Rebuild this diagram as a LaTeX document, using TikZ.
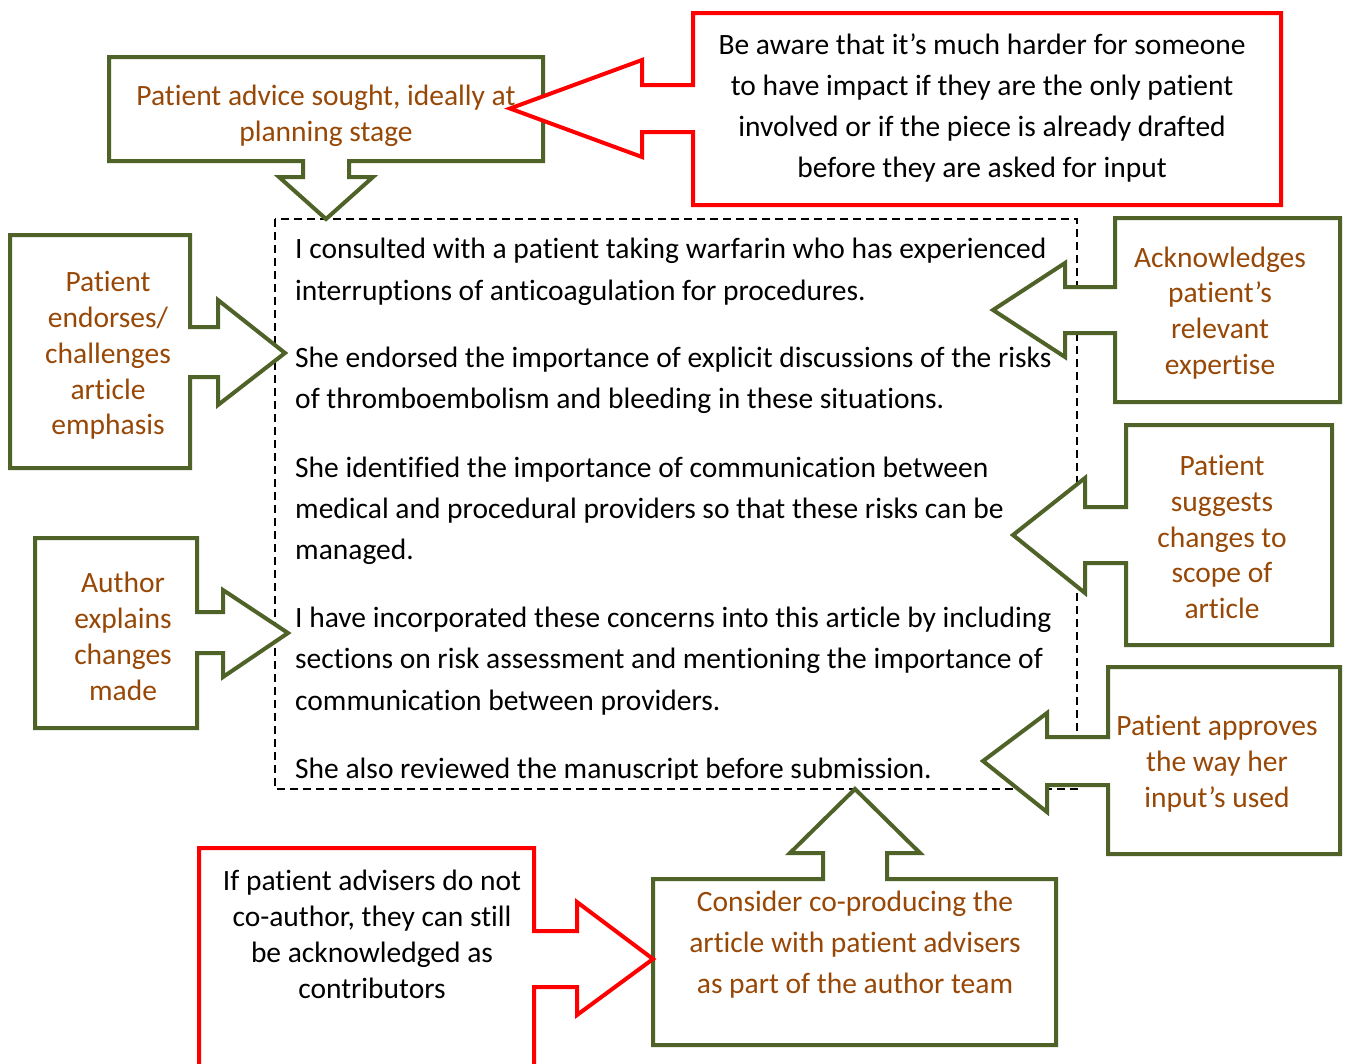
\documentclass[tikz,border=0pt]{standalone}
\usepackage{fontspec}
\setmainfont{Carlito}[Ligatures=NoCommon]
\definecolor{calgreen}{HTML}{4F6228}
\definecolor{calbrown}{HTML}{984806}
\definecolor{calred}{HTML}{FF0000}
\tikzset{
  gshape/.style={draw=calgreen, line width=4pt, fill=white, line join=miter},
  rshape/.style={draw=calred, line width=4pt, fill=white, line join=miter},
  gtxt/.style={text=calbrown, align=center, inner sep=0pt, font=\fontsize{29.5}{35.8}\selectfont},
  gtxtw/.style={text=calbrown, align=center, inner sep=0pt, font=\fontsize{29.5}{41}\selectfont},
  rtxt/.style={text=black, align=center, inner sep=0pt, font=\fontsize{29.5}{35.8}\selectfont},
  rtxtw/.style={text=black, align=center, inner sep=0pt, font=\fontsize{29.5}{41}\selectfont},
  bodyline/.style={anchor=base west, inner sep=0pt, font=\fontsize{29.5}{41}\selectfont},
  dashbox/.style={draw=black, line width=1.5pt, dash pattern=on 8pt off 5pt}
}
\begin{document}
\begin{tikzpicture}[x=1pt,y=-1pt]
\clip (0,0) rectangle (1349,1063);
\fill[white] (0,0) rectangle (1349,1063);

% dashed text frame
\draw[dashbox] (275,219) rectangle (1077,789);

% callout shapes
\draw[gshape] (109,57) -- (543,57) -- (543,161) -- (349,161) -- (349,177) -- (373,177) -- (326,219) -- (279,177) -- (303,177) -- (303,161) -- (109,161) -- cycle;
\draw[rshape] (693,13) -- (1281,13) -- (1281,205) -- (693,205) -- (693,132) -- (642,132) -- (642,157) -- (510,108.5) -- (642,60) -- (642,85) -- (693,85) -- cycle;
\draw[gshape] (10,235) -- (190,235) -- (190,327) -- (218,327) -- (218,300) -- (285,353) -- (218,405) -- (218,377) -- (190,377) -- (190,468) -- (10,468) -- cycle;
\draw[gshape] (1115,218) -- (1340,218) -- (1340,402) -- (1115,402) -- (1115,333) -- (1065,333) -- (1065,357) -- (993,310) -- (1065,263) -- (1065,287) -- (1115,287) -- cycle;
\draw[gshape] (35,538) -- (197,538) -- (197,612) -- (223,612) -- (223,590) -- (288,633) -- (223,677) -- (223,653) -- (197,653) -- (197,728) -- (35,728) -- cycle;
\draw[gshape] (1126,425) -- (1332,425) -- (1332,645) -- (1126,645) -- (1126,563) -- (1085,563) -- (1085,593) -- (1013,535) -- (1085,478) -- (1085,507) -- (1126,507) -- cycle;
\draw[gshape] (1108,667) -- (1340,667) -- (1340,854) -- (1108,854) -- (1108,785) -- (1047,785) -- (1047,812) -- (983,761) -- (1047,713) -- (1047,737) -- (1108,737) -- cycle;
\draw[gshape] (653,879) -- (823,879) -- (823,853) -- (790,853) -- (855,789) -- (920,853) -- (887,853) -- (887,879) -- (1056,879) -- (1056,1045) -- (653,1045) -- cycle;
\draw[rshape] (199,1090) -- (199,848) -- (534,848) -- (534,931) -- (577,931) -- (577,902) -- (653,959) -- (577,1015) -- (577,987) -- (534,987) -- (534,1090) -- cycle;

% callout texts
\node[gtxt] (advice) at (326,116) {Patient advice sought, ideally at\\planning stage};
\node[rtxtw] (aware) at (982,107.5) {Be aware that it’s much harder for someone\\to have impact if they are the only patient\\involved or if the piece is already drafted\\before they are asked for input};
\node[gtxt] (endorses) at (108,355.5) {Patient\\endorses/\\challenges\\article\\emphasis};
\node[gtxt] (acknow) at (1220,313) {Acknowledges\\patient’s\\relevant\\expertise};
\node[gtxt] (author) at (123,636.5) {Author\\explains\\changes\\made};
\node[gtxt] (suggests) at (1222,537) {Patient\\suggests\\changes to\\scope of\\article};
\node[gtxt] (approves) at (1217,764) {Patient approves\\the way her\\input’s used};
\node[rtxt] (coauthor) at (372,934.5) {If patient advisers do not\\co-author, they can still\\be acknowledged as\\contributors};
\node[gtxtw] (coproduce) at (855,944.5) {Consider co-producing the\\article with patient advisers\\as part of the author team};

% main text
\begin{scope}
\clip (275,219) rectangle (1077,779);
\node[bodyline] (l1) at (295,258) {I consulted with a patient taking warfarin who has experienced};
\node[bodyline] (l2) at (295,300) {interruptions of anticoagulation for procedures.};
\node[bodyline] (l3) at (295,367) {She endorsed the importance of explicit discussions of the risks};
\node[bodyline] (l4) at (295,408) {of thromboembolism and bleeding in these situations.};
\node[bodyline] (l5) at (295,477) {She identified the importance of communication between};
\node[bodyline] (l6) at (295,518) {medical and procedural providers so that these risks can be};
\node[bodyline] (l7) at (295,559) {managed.};
\node[bodyline] (l8) at (295,627) {I have incorporated these concerns into this article by including};
\node[bodyline] (l9) at (295,668) {sections on risk assessment and mentioning the importance of};
\node[bodyline] (l10) at (295,710) {communication between providers.};
\node[bodyline] (l11) at (295,778) {She also reviewed the manuscript before submission.};
\end{scope}
\end{tikzpicture}
\end{document}
